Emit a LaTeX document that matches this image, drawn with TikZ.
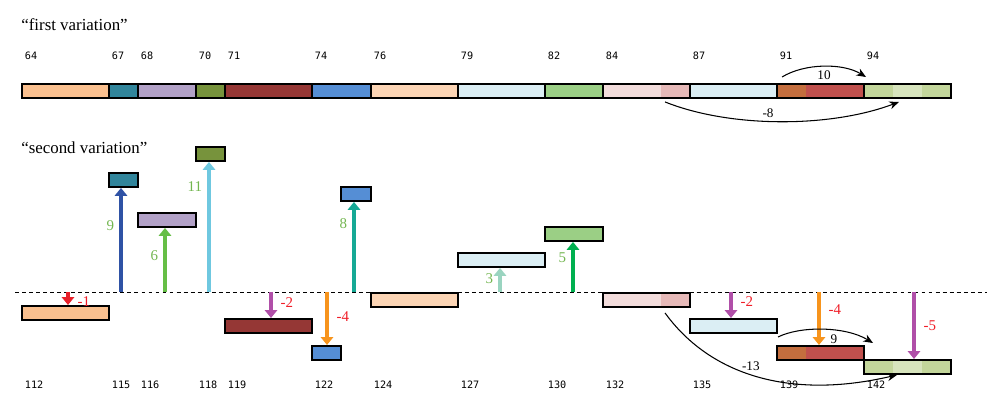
\documentclass[tikz,border=0pt]{standalone}
\usepackage{fontspec}
\setmainfont{Liberation Serif}
\setmonofont{DejaVu Sans Mono}
\usetikzlibrary{arrows.meta}
% colori dei blocchi
\definecolor{cPeach}{RGB}{250,192,143}
\definecolor{cTeal}{RGB}{49,133,155}
\definecolor{cLav}{RGB}{178,161,199}
\definecolor{cOlive}{RGB}{119,147,60}
\definecolor{cMaroon}{RGB}{149,55,53}
\definecolor{cBlue}{RGB}{85,142,213}
\definecolor{cTan}{RGB}{252,213,181}
\definecolor{cIce}{RGB}{219,238,244}
\definecolor{cMint}{RGB}{155,207,133}
\definecolor{cRose}{RGB}{242,220,219}
\definecolor{cRoseD}{RGB}{230,185,184}
\definecolor{cRust}{RGB}{196,110,62}
\definecolor{cRed}{RGB}{192,80,77}
\definecolor{cLime}{RGB}{195,214,155}
\definecolor{cLimeL}{RGB}{215,228,189}
% colori delle frecce
\definecolor{arRed}{RGB}{232,32,42}
\definecolor{arNavy}{RGB}{47,82,165}
\definecolor{arGreen}{RGB}{102,190,70}
\definecolor{arSky}{RGB}{111,200,224}
\definecolor{arPlum}{RGB}{176,79,168}
\definecolor{arOrange}{RGB}{247,148,29}
\definecolor{arTeal}{RGB}{22,169,149}
\definecolor{arPale}{RGB}{154,212,192}
\definecolor{arGrass}{RGB}{0,176,80}
\definecolor{txRed}{RGB}{240,30,40}
\definecolor{txGreen}{RGB}{115,182,80}
\tikzset{
  blk/.style={draw, line width=1.1pt, rectangle, inner sep=0pt, minimum height=14*0.02cm, anchor=north west},
  band/.style n args={3}{path picture={\fill[#1] ([xshift=#2*0.02cm]path picture bounding box.north west) rectangle ([xshift=#3*0.02cm]path picture bounding box.south west);}},
  tick/.style={font=\ttfamily\fontsize{5.8}{6}\selectfont, anchor=west, inner sep=2pt},
  title/.style={font=\fontsize{9.6}{11}\selectfont, anchor=west, inner sep=0pt},
  lbl/.style={font=\fontsize{7.5}{9}\selectfont, inner sep=2pt},
  shiftlbl/.style={font=\fontsize{8.5}{10}\selectfont, inner sep=2pt},
  rlbl/.style={right=2.5pt},
  llbl/.style={left=1pt},
  jump/.style={line width=2pt, -{Triangle[length=4.5pt,width=7pt]}},
  hop/.style={line width=0.6pt, -{Stealth[length=5.5pt,width=4.5pt]}},
  base/.style={line width=0.5pt, dash pattern=on 2.2pt off 1.8pt}
}
\newcommand{\blk}[6][]{\node[blk, fill=#6, minimum width={(#4-#3)*0.02cm}, #1] (#2) at (#3,#5) {};}

\begin{document}
\begin{tikzpicture}[x=0.02cm, y=-0.02cm]
    \useasboundingbox (0,0) rectangle (1000,408);
    % Titoli
    \node[title] (t1) at (21,25) {“first variation”};
    \node[title] (t2) at (21,148) {“second variation”};
    % Prima variazione
    \foreach \x/\t in {21/64,108/67,137/68,195/70,224/71,311/74,370/76,457/79,544/82,602/84,689/87,776/91,863/94}
        \node[tick] (n\t) at (\x,56) {\t};
    \blk{a64}{21}{108}{83}{cPeach}
    \blk{a67}{108}{137}{83}{cTeal}
    \blk{a68}{137}{195}{83}{cLav}
    \blk{a70}{195}{224}{83}{cOlive}
    \blk{a71}{224}{311}{83}{cMaroon}
    \blk{a74}{311}{370}{83}{cBlue}
    \blk{a76}{370}{457}{83}{cTan}
    \blk{a79}{457}{544}{83}{cIce}
    \blk{a82}{544}{602}{83}{cMint}
    \blk[band={cRoseD}{58}{87}]{a84}{602}{689}{83}{cRose}
    \blk{a87}{689}{776}{83}{cIce}
    \blk[band={cRust}{0}{29}]{a91}{776}{863}{83}{cRed}
    \blk[band={cLimeL}{29}{58}]{a94}{863}{950}{83}{cLime}
    \draw[hop] ([shift={(6,-6)}]a91.north west) .. controls (805,63) and (843,63) .. ([shift={(3,-6)}]a94.north west) node[lbl, midway, below]{10};
    \draw[hop] ([shift={(63,3)}]a84.south west) .. controls (730,128) and (830,128) .. ([shift={(36,3)}]a94.south west) node[lbl, pos=0.45, above]{-8};
    % Seconda variazione
    \draw[base] (15,292) -- (987,292);
    \foreach \x/\t in {21/112,108/115,137/116,195/118,224/119,311/122,370/124,457/127,544/130,602/132,689/135,776/139,863/142}
        \node[tick] (n\t) at (\x,385) {\t};
    \blk{b112}{21}{108}{305}{cPeach}
    \blk{b115}{108}{137}{172}{cTeal}
    \blk{b116}{137}{195}{212}{cLav}
    \blk{b118}{195}{224}{146}{cOlive}
    \blk{b119}{224}{311}{318}{cMaroon}
    \blk{b122}{311}{340}{345}{cBlue}
    \blk{b122u}{340}{370}{186}{cBlue}
    \blk{b124}{370}{457}{292}{cTan}
    \blk{b127}{457}{544}{252}{cIce}
    \blk{b130}{544}{602}{226}{cMint}
    \blk[band={cRoseD}{58}{87}]{b132}{602}{689}{292}{cRose}
    \blk{b135}{689}{776}{318}{cIce}
    \blk[band={cRust}{0}{29}]{b139}{776}{863}{345}{cRed}
    \blk[band={cLimeL}{29}{58}]{b142}{863}{950}{359}{cLime}
    % Spostamenti
    \foreach \x/\tgt/\col/\lab/\lc/\p/\side in {
        68/b112.north/arRed/-1/txRed/0.77/rlbl,
        121/b115.south/arNavy/9/txGreen/0.64/llbl,
        165/b116.south/arGreen/6/txGreen/0.56/llbl,
        209/b118.south/arSky/11/txGreen/0.81/llbl,
        271/b119.north/arPlum/-2/txRed/0.4/rlbl,
        327/b122.north/arOrange/-4/txRed/0.47/rlbl,
        354/b122u.south/arTeal/8/txGreen/0.76/llbl,
        500/b127.south/arPale/3/txGreen/0.54/llbl,
        573/b130.south/arGrass/5/txGreen/0.69/llbl,
        731/b135.north/arPlum/-2/txRed/0.37/rlbl,
        819/b139.north/arOrange/-4/txRed/0.34/rlbl,
        914/b142.north/arPlum/-5/txRed/0.5/rlbl}
    {
        \coordinate (m\x) at (\x,292);
        \draw[jump, draw=\col] (m\x) -- (m\x |- \tgt) node[shiftlbl, text=\lc, pos=\p, \side]{\lab};
    }
    \draw[hop] ([shift={(2,-8)}]b139.north west) .. controls (800,326) and (845,326) .. ([shift={(10,-16)}]b142.north west) node[lbl, pos=0.6, below]{9};
    \draw[hop] ([shift={(63,5)}]b132.south west) .. controls (710,375) and (790,400) .. ([shift={(34,0)}]b142.south west) node[lbl, pos=0.47, above]{-13};
\end{tikzpicture}
\end{document}
